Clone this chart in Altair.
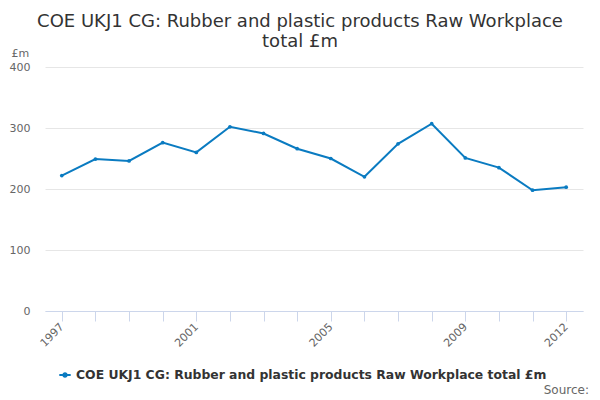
import altair as alt
import pandas as pd

years = list(range(1997, 2013))
values = [222, 249, 246, 276, 260, 302, 291, 266, 250, 220, 274, 307, 251, 235, 198, 203]
series = "COE UKJ1 CG: Rubber and plastic products Raw Workplace total £m"
label_years = [1997, 2001, 2005, 2009, 2012]

df = pd.DataFrame({"year": years, "value": values, "series": series})

FONT = "DejaVu Sans"
BLUE = "#0a7bc1"
circle_line = "M-1,0L1,0M-0.3,0A0.3,0.3 0 1 0 0.3,0A0.3,0.3 0 1 0 -0.3,0Z"

label_expr = "indexof([" + ",".join(f"'{y}'" for y in label_years) + "], datum.label) >= 0 ? datum.label : ''"

base = alt.Chart(df).encode(
    x=alt.X("year:O",
            scale=alt.Scale(type="point", padding=0.5),
            axis=alt.Axis(title=None, labelAngle=-45, labelAlign="right", labelBaseline="middle",
                          labelExpr=label_expr, labelColor="#666666", labelFontSize=11,
                          labelFont=FONT, tickColor="#ccd6eb", tickSize=10,
                          domainColor="#ccd6eb", labelPadding=4, grid=False,
                          labelOverlap=False)),
    y=alt.Y("value:Q",
            scale=alt.Scale(domain=[0, 400]),
            axis=alt.Axis(title="£m", titleAngle=0, titleX=-34, titleY=-11, titleAlign="left",
                          titleBaseline="alphabetic", titleFont=FONT, titleFontSize=11,
                          titleFontWeight="normal", titleColor="#666666",
                          values=[0, 100, 200, 300, 400], labelColor="#666666", labelFontSize=11,
                          labelFont=FONT, domain=False, ticks=False, labelPadding=15,
                          gridColor="#e6e6e6")),
    color=alt.Color("series:N", scale=alt.Scale(range=[BLUE]),
                    legend=alt.Legend(title=None, orient="none", legendX=13, legendY=301,
                                      symbolType=circle_line, symbolSize=130,
                                      symbolStrokeWidth=2, labelFont=FONT, labelFontSize=12.4,
                                      labelFontWeight="bold", labelColor="#333333",
                                      labelLimit=600)),
)

line = base.mark_line(strokeWidth=2)
pts = base.mark_point(filled=True, size=14, opacity=1)

src = alt.Chart(pd.DataFrame({"t": ["Source:"]})).mark_text(
    font=FONT, fontSize=12, color="#666666", align="right", baseline="alphabetic"
).encode(text="t:N", x=alt.value(544), y=alt.value(327))

chart = alt.layer(line, pts, src).properties(
    width=538, height=244,
    title=alt.TitleParams(
        text=["COE UKJ1 CG: Rubber and plastic products Raw Workplace", "total £m"],
        font=FONT, fontSize=18, fontWeight="normal", color="#333333",
        anchor="middle", dx=-14, dy=18, offset=14, lineHeight=20),
    autosize=alt.AutoSizeParams(type="none"),
    padding={"left": 37, "top": 59, "right": 9, "bottom": 89},
).configure_view(stroke=None)

chart.save("out.html", embed_options={"renderer": "svg", "actions": False})
